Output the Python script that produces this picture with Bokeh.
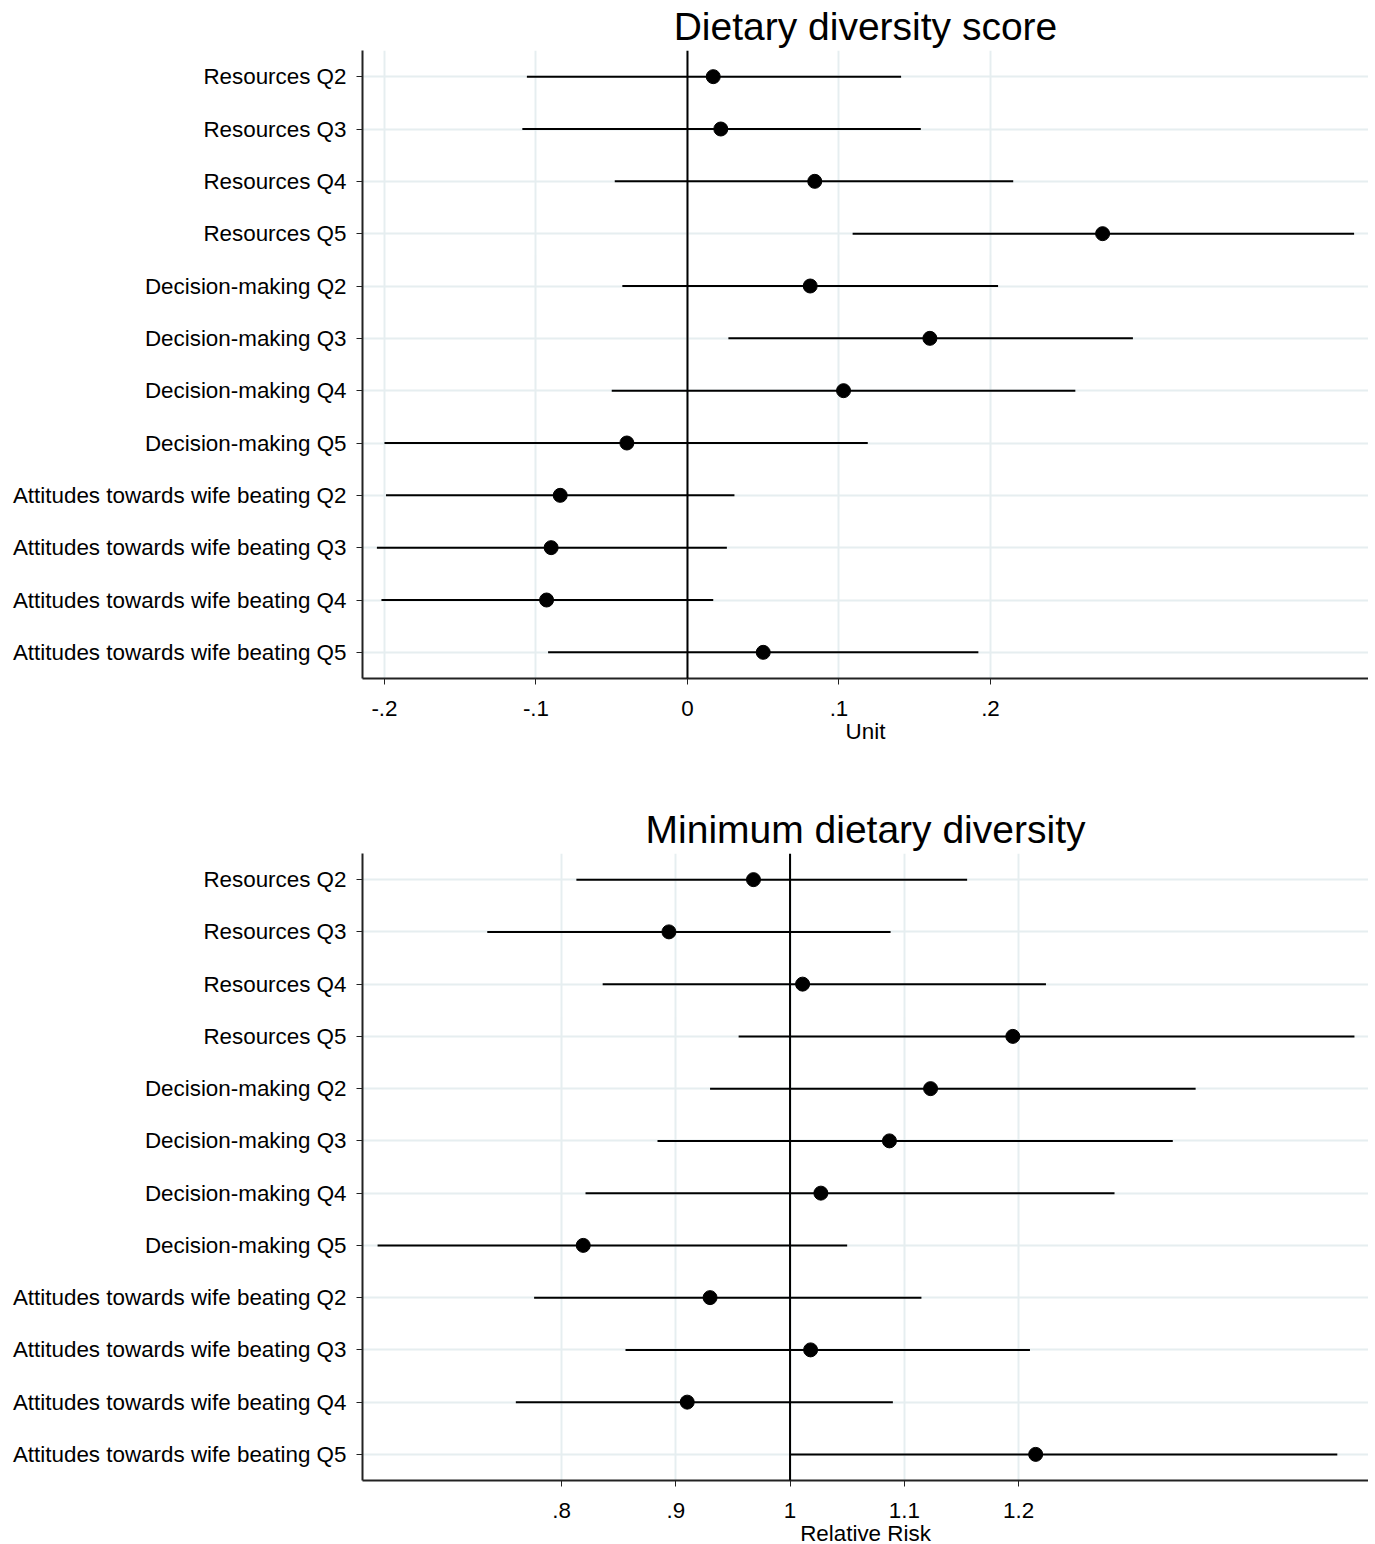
from bokeh.plotting import figure
from bokeh.layouts import column
from bokeh.models import FactorRange, Range1d, FixedTicker, Span, ColumnDataSource
from bokeh.embed import file_html
from bokeh.resources import INLINE

categories = [
    "Resources Q2", "Resources Q3", "Resources Q4", "Resources Q5",
    "Decision-making Q2", "Decision-making Q3", "Decision-making Q4", "Decision-making Q5",
    "Attitudes towards wife beating Q2", "Attitudes towards wife beating Q3",
    "Attitudes towards wife beating Q4", "Attitudes towards wife beating Q5",
]

# Dietary diversity score (unit change)
dds_est = [0.017, 0.022, 0.084, 0.274, 0.081, 0.160, 0.103, -0.040, -0.084, -0.090, -0.093, 0.050]
dds_lo = [-0.106, -0.109, -0.048, 0.109, -0.043, 0.027, -0.050, -0.200, -0.199, -0.205, -0.202, -0.092]
dds_hi = [0.141, 0.154, 0.215, 0.440, 0.205, 0.294, 0.256, 0.119, 0.031, 0.026, 0.017, 0.192]
dds_ticks = [-0.2, -0.1, 0.0, 0.1, 0.2]
dds_tick_labels = ["-.2", "-.1", "0", ".1", ".2"]

# Minimum dietary diversity (relative risk)
mdd_est = [0.968, 0.894, 1.011, 1.195, 1.123, 1.087, 1.027, 0.819, 0.930, 1.018, 0.910, 1.215]
mdd_lo = [0.813, 0.735, 0.836, 0.955, 0.930, 0.884, 0.821, 0.639, 0.776, 0.856, 0.760, 1.000]
mdd_hi = [1.155, 1.088, 1.224, 1.494, 1.355, 1.335, 1.284, 1.050, 1.115, 1.210, 1.090, 1.479]
mdd_ticks = [0.8, 0.9, 1.0, 1.1, 1.2]
mdd_tick_labels = [".8", ".9", "1", "1.1", "1.2"]

FONT = "Liberation Sans"
GRID = "#e6eef0"


def make_panel(title, xlabel, est, lo, hi, ticks, tick_labels, xr, ref, frame_h, bottom_border):
    p = figure(
        y_range=FactorRange(factors=categories[::-1]),
        x_range=Range1d(*xr),
        frame_width=1006, frame_height=frame_h,
        min_border_left=362, min_border_right=0, min_border_top=0,
        min_border_bottom=bottom_border,
        output_backend="svg", toolbar_location=None,
        title=title,
    )
    p.title.text_font = FONT
    p.title.text_font_size = "39px"
    p.title.text_font_style = "normal"
    p.title.text_color = "black"
    p.title.align = "center"
    p.title.standoff = 5
    p.title.offset = 0
    p.outline_line_color = None

    src = ColumnDataSource(dict(cat=categories, est=est, lo=lo, hi=hi))
    p.segment(x0="lo", x1="hi", y0="cat", y1="cat", source=src, line_color="black", line_width=2)
    p.add_layout(Span(location=ref, dimension="height", line_color="black", line_width=2))
    p.scatter(x="est", y="cat", source=src, size=14, fill_color="black", line_color="black")

    p.xaxis.ticker = FixedTicker(ticks=ticks)
    p.xaxis.major_label_overrides = {t: l for t, l in zip(ticks, tick_labels)}
    p.xaxis.axis_label = xlabel
    for ax in (p.xaxis[0], p.yaxis[0]):
        ax.axis_line_color = "#222222"
        ax.axis_line_width = 2
        ax.major_tick_line_color = "#222222"
        ax.major_tick_line_width = 1
        ax.major_tick_out = 6
        ax.major_tick_in = 0
        ax.minor_tick_line_color = None
        ax.major_label_text_font = FONT
        ax.major_label_text_font_size = "22.4px"
        ax.major_label_text_color = "black"
        ax.axis_label_text_font = FONT
        ax.axis_label_text_font_size = "22.4px"
        ax.axis_label_text_font_style = "normal"
        ax.axis_label_text_color = "black"
    p.xaxis.major_label_standoff = 16
    p.xaxis.axis_label_standoff = 0
    p.yaxis.major_label_standoff = 10

    p.xgrid.grid_line_color = GRID
    p.xgrid.grid_line_width = 2
    p.ygrid.grid_line_color = GRID
    p.ygrid.grid_line_width = 2
    return p


p1 = make_panel("Dietary diversity score", "Unit", dds_est, dds_lo, dds_hi,
                dds_ticks, dds_tick_labels, (-0.2145, 0.4495), 0.0, 628, 125)
p2 = make_panel("Minimum dietary diversity", "Relative Risk", mdd_est, mdd_lo, mdd_hi,
                mdd_ticks, mdd_tick_labels, (0.6258, 1.5063), 1.0, 627, 56)

layout = column(p1, p2, spacing=0)
open("out.html", "w").write(file_html(layout, INLINE))
